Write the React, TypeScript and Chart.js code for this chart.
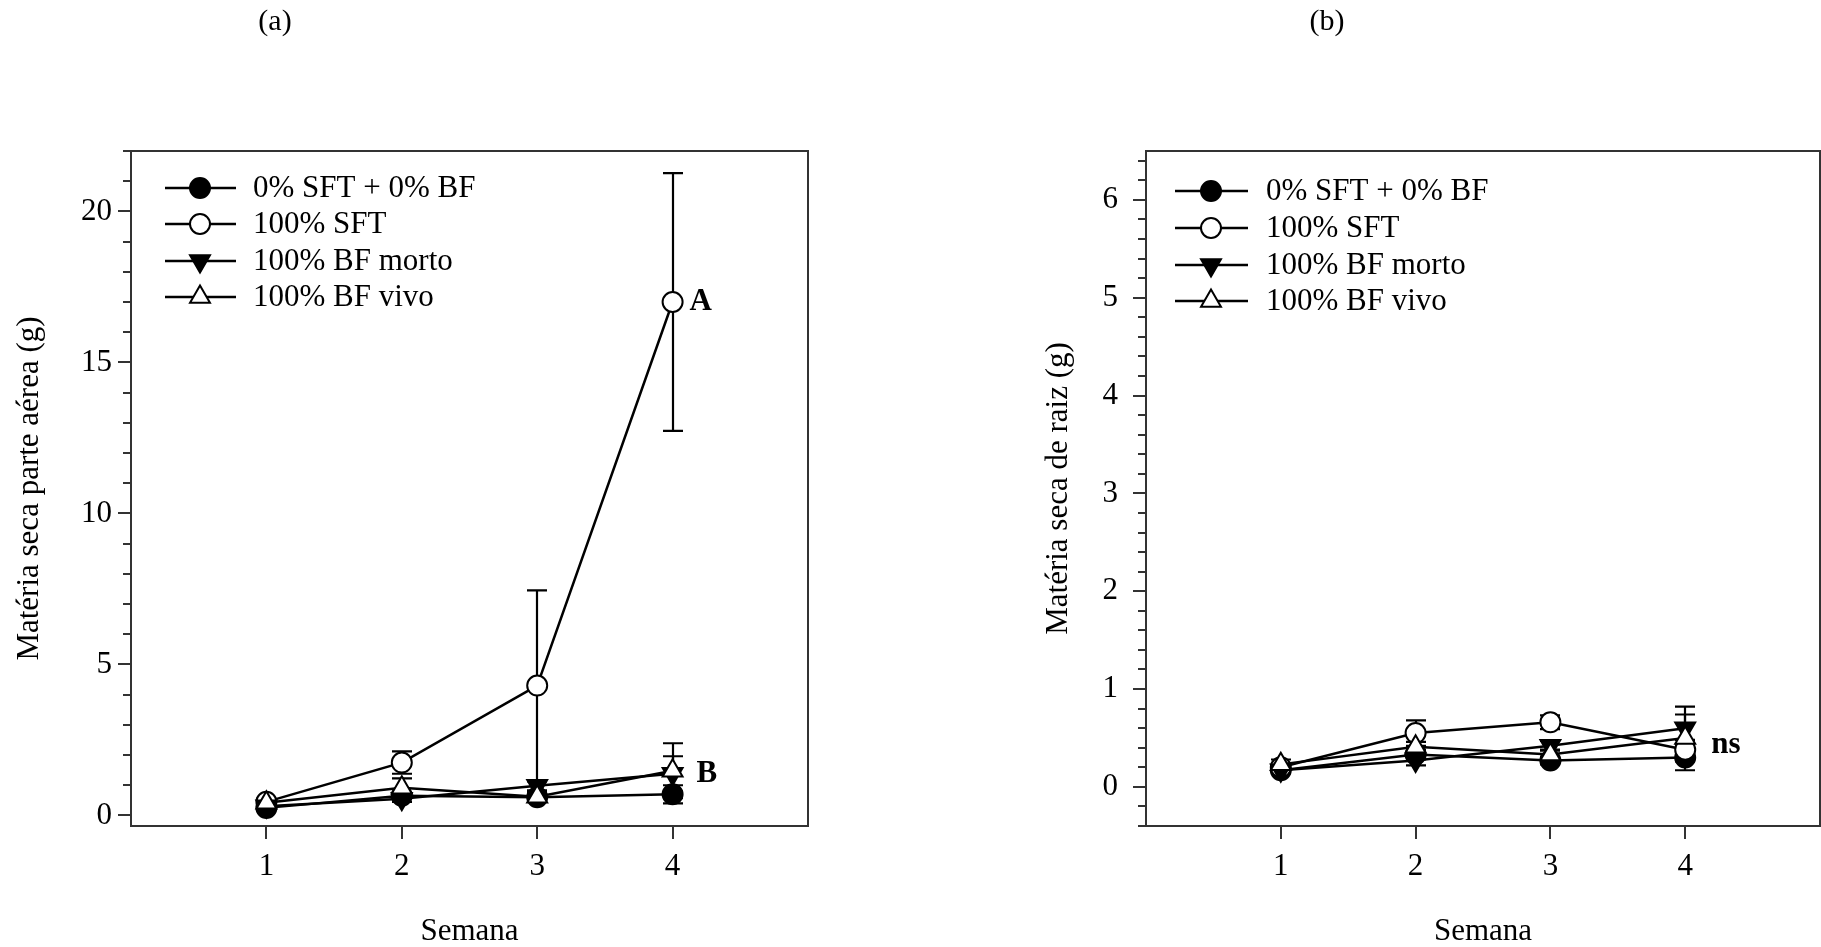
import React, { useEffect, useRef } from 'react';
import { Chart, registerables } from 'chart.js';

Chart.register(...registerables);

// ---------- data ----------
const weeks = [1, 2, 3, 4];
const xTickValues = [1, 2, 3, 4];
const seriesNames = ['0% SFT + 0% BF', '100% SFT', '100% BF morto', '100% BF vivo'];

// (a) shoot dry matter
const shootControl = [0.25, 0.65, 0.6, 0.7];
const shootControlErr = [0.05, 0.1, 0.1, 0.3];
const shootSFT = [0.45, 1.75, 4.3, 17.0];
const shootSFTErr = [0.1, 0.37, 3.15, 4.27];
const shootMorto = [0.3, 0.55, 0.98, 1.38];
const shootMortoErr = [0.05, 0.1, 0.15, 0.58];
const shootVivo = [0.42, 0.92, 0.62, 1.48];
const shootVivoErr = [0.08, 0.31, 0.15, 0.91];
const shootYTicks = [0, 5, 10, 15, 20];

// (b) root dry matter
const rootControl = [0.17, 0.33, 0.27, 0.3];
const rootControlErr = [0.03, 0.05, 0.04, 0.13];
const rootSFT = [0.2, 0.55, 0.66, 0.38];
const rootSFTErr = [0.03, 0.13, 0.07, 0.1];
const rootMorto = [0.17, 0.27, 0.42, 0.6];
const rootMortoErr = [0.03, 0.05, 0.05, 0.22];
const rootVivo = [0.23, 0.41, 0.33, 0.5];
const rootVivoErr = [0.05, 0.05, 0.05, 0.24];
const rootYTicks = [0, 1, 2, 3, 4, 5, 6];

// ---------- styles ----------
const FONT = '"Liberation Serif", "Times New Roman", serif';
const FS = 31;
const markerStyles = [
  { shape: 'circle', rotation: 0, r: 10, fill: '#000' },
  { shape: 'circle', rotation: 0, r: 10, fill: '#fff' },
  { shape: 'triangle', rotation: 180, r: 11.5, fill: '#000' },
  { shape: 'triangle', rotation: 0, r: 11.5, fill: '#fff' },
];
const drawOrder = [3, 2, 1, 0];

type Series = { values: number[]; err: number[] };
type Annot = { text: string; x: number; y: number; dx: number };
type PanelCfg = {
  width: number;
  series: Series[];
  yMin: number;
  yMax: number;
  yTicks: number[];
  minorStep: number;
  yTitle: string;
  header: string;
  headerX: number;
  yAxisWidth: number;
  padRight: number;
  yTickPad: number;
  yTitlePad: number;
  legendLine: [number, number];
  legendMarkerX: number;
  legendTextX: number;
  legendRows: number[];
  annots: Annot[];
};

const panelA: PanelCfg = {
  width: 910,
  series: [
    { values: shootControl, err: shootControlErr },
    { values: shootSFT, err: shootSFTErr },
    { values: shootMorto, err: shootMortoErr },
    { values: shootVivo, err: shootVivoErr },
  ],
  yMin: -0.35,
  yMax: 22,
  yTicks: shootYTicks,
  minorStep: 1,
  yTitle: 'Matéria seca parte aérea (g)',
  header: '(a)',
  headerX: 275,
  yAxisWidth: 131,
  padRight: 102,
  yTickPad: 19,
  yTitlePad: 11,
  legendLine: [165, 236],
  legendMarkerX: 200,
  legendTextX: 253,
  legendRows: [188, 224, 261, 297],
  annots: [
    { text: 'A', x: 4, y: 17, dx: 17 },
    { text: 'B', x: 4, y: 1.38, dx: 24 },
  ],
};

const panelB: PanelCfg = {
  width: 930,
  series: [
    { values: rootControl, err: rootControlErr },
    { values: rootSFT, err: rootSFTErr },
    { values: rootMorto, err: rootMortoErr },
    { values: rootVivo, err: rootVivoErr },
  ],
  yMin: -0.4,
  yMax: 6.5,
  yTicks: rootYTicks,
  minorStep: 0.2,
  yTitle: 'Matéria seca de raiz (g)',
  header: '(b)',
  headerX: 417,
  yAxisWidth: 236,
  padRight: 20,
  yTickPad: 28,
  yTitlePad: 130,
  legendLine: [265, 338],
  legendMarkerX: 301,
  legendTextX: 356,
  legendRows: [191, 228, 265, 301],
  annots: [{ text: 'ns', x: 4, y: 0.43, dx: 26 }],
};

function drawMarker(ctx: CanvasRenderingContext2D, i: number, x: number, y: number) {
  const st = markerStyles[i];
  ctx.beginPath();
  if (st.shape === 'circle') {
    ctx.arc(x, y, st.r, 0, Math.PI * 2);
  } else {
    let rad = (st.rotation * Math.PI) / 180;
    ctx.moveTo(x + Math.sin(rad) * st.r, y - Math.cos(rad) * st.r);
    rad += (2 * Math.PI) / 3;
    ctx.lineTo(x + Math.sin(rad) * st.r, y - Math.cos(rad) * st.r);
    rad += (2 * Math.PI) / 3;
    ctx.lineTo(x + Math.sin(rad) * st.r, y - Math.cos(rad) * st.r);
  }
  ctx.closePath();
  ctx.fillStyle = st.fill;
  ctx.fill();
  ctx.lineWidth = 2;
  ctx.strokeStyle = '#000';
  ctx.stroke();
}

function makePlugin(cfg: PanelCfg) {
  return {
    id: 'panelDecor',
    beforeDatasetsDraw(chart: any) {
      const { ctx } = chart;
      const xs = chart.scales.x;
      const ys = chart.scales.y;
      ctx.save();
      ctx.strokeStyle = '#000';
      ctx.lineWidth = 2.2;
      cfg.series.forEach((s) => {
        weeks.forEach((w, i) => {
          const e = s.err[i];
          if (!e) return;
          const px = Math.round(xs.getPixelForValue(w));
          const top = ys.getPixelForValue(s.values[i] + e);
          const bot = ys.getPixelForValue(s.values[i] - e);
          ctx.beginPath();
          ctx.moveTo(px, top);
          ctx.lineTo(px, bot);
          ctx.moveTo(px - 10, top);
          ctx.lineTo(px + 10, top);
          ctx.moveTo(px - 10, bot);
          ctx.lineTo(px + 10, bot);
          ctx.stroke();
        });
      });
      ctx.restore();
    },
    afterDraw(chart: any) {
      const { ctx, chartArea: a } = chart;
      const xs = chart.scales.x;
      const ys = chart.scales.y;
      ctx.save();
      // frame
      ctx.strokeStyle = '#333';
      ctx.lineWidth = 2;
      ctx.strokeRect(a.left, a.top, a.right - a.left, a.bottom - a.top);
      // y ticks (major + minor)
      const kStart = Math.ceil(cfg.yMin / cfg.minorStep - 1e-6);
      const kEnd = Math.floor(cfg.yMax / cfg.minorStep + 1e-6);
      ctx.beginPath();
      for (let k = kStart; k <= kEnd; k++) {
        const v = k * cfg.minorStep;
        const major = cfg.yTicks.some((t) => Math.abs(t - v) < 1e-6);
        const len = major ? 13 : 8;
        const py = Math.round(ys.getPixelForValue(v));
        ctx.moveTo(a.left - len, py);
        ctx.lineTo(a.left, py);
      }
      // x ticks
      xTickValues.forEach((v) => {
        const px = Math.round(xs.getPixelForValue(v));
        ctx.moveTo(px, a.bottom);
        ctx.lineTo(px, a.bottom + 13);
      });
      ctx.stroke();

      // legend
      ctx.font = `${FS}px ${FONT}`;
      ctx.textBaseline = 'middle';
      ctx.textAlign = 'left';
      seriesNames.forEach((name, i) => {
        const y = cfg.legendRows[i];
        ctx.strokeStyle = '#000';
        ctx.lineWidth = 2.5;
        ctx.beginPath();
        ctx.moveTo(cfg.legendLine[0], y);
        ctx.lineTo(cfg.legendLine[1], y);
        ctx.stroke();
        drawMarker(ctx, i, cfg.legendMarkerX, y);
        ctx.fillStyle = '#000';
        ctx.fillText(name, cfg.legendTextX, y + 1);
      });

      // significance letters
      ctx.font = `bold ${FS}px ${FONT}`;
      cfg.annots.forEach((an) => {
        ctx.fillStyle = '#000';
        ctx.fillText(an.text, xs.getPixelForValue(an.x) + an.dx, ys.getPixelForValue(an.y));
      });

      // header
      ctx.font = `${FS - 1}px ${FONT}`;
      ctx.textAlign = 'center';
      ctx.fillText(cfg.header, cfg.headerX, 22);
      ctx.restore();
    },
  };
}

function buildConfig(cfg: PanelCfg): any {
  const font = { family: FONT, size: FS };
  return {
    type: 'line',
    data: {
      datasets: cfg.series.map((s, i) => ({
        label: seriesNames[i],
        data: weeks.map((w, j) => ({ x: w, y: s.values[j] })),
        borderColor: '#000',
        borderWidth: 2.5,
        tension: 0,
        fill: false,
        order: drawOrder[i],
        pointStyle: markerStyles[i].shape,
        pointRotation: markerStyles[i].rotation,
        pointRadius: markerStyles[i].r,
        pointHoverRadius: markerStyles[i].r,
        pointBackgroundColor: markerStyles[i].fill,
        pointBorderColor: '#000',
        pointBorderWidth: 2,
      })),
    },
    options: {
      animation: false,
      responsive: false,
      devicePixelRatio: 1,
      events: [],
      layout: { padding: { left: 0, top: 151, right: cfg.padRight, bottom: 0 } },
      plugins: {
        legend: { display: false },
        tooltip: { enabled: false },
        title: { display: false },
      },
      scales: {
        x: {
          type: 'linear',
          position: 'bottom',
          min: 0,
          max: 5,
          afterBuildTicks: (s: any) => {
            s.ticks = xTickValues.map((v) => ({ value: v }));
          },
          afterFit: (s: any) => {
            s.height = 947 - 826;
          },
          grid: { display: false, drawTicks: false, tickLength: 0 },
          border: { display: false },
          ticks: {
            font,
            color: '#000',
            padding: 22,
            maxRotation: 0,
            autoSkip: false,
            callback: (v: any) => String(v),
          },
          title: {
            display: true,
            text: 'Semana',
            font: { family: FONT, size: FS, lineHeight: 1.0 },
            color: '#000',
            padding: 0,
          },
        },
        y: {
          type: 'linear',
          position: 'left',
          min: cfg.yMin,
          max: cfg.yMax,
          afterBuildTicks: (s: any) => {
            s.ticks = cfg.yTicks.map((v) => ({ value: v }));
          },
          afterFit: (s: any) => {
            s.width = cfg.yAxisWidth;
          },
          grid: { display: false, drawTicks: false, tickLength: 0 },
          border: { display: false },
          ticks: {
            font,
            color: '#000',
            padding: cfg.yTickPad,
            autoSkip: false,
            callback: (v: any) => String(v),
          },
          title: {
            display: true,
            text: cfg.yTitle,
            font,
            color: '#000',
            padding: { top: cfg.yTitlePad, bottom: 0 },
          },
        },
      },
    },
    plugins: [makePlugin(cfg)],
  };
}

function Panel({ cfg, left }: { cfg: PanelCfg; left: number }) {
  const ref = useRef<HTMLCanvasElement>(null);
  useEffect(() => {
    const chart = new Chart(ref.current as HTMLCanvasElement, buildConfig(cfg));
    return () => chart.destroy();
  }, []);
  return (
    <canvas
      ref={ref}
      width={cfg.width}
      height={947}
      style={{ position: 'absolute', left, top: 0, width: cfg.width, height: 947 }}
    />
  );
}

export default function App() {
  return (
    <div
      style={{
        position: 'absolute',
        left: 0,
        top: 0,
        width: 1821,
        height: 947,
        background: '#fff',
        overflow: 'hidden',
      }}
    >
      <Panel cfg={panelA} left={0} />
      <Panel cfg={panelB} left={910} />
    </div>
  );
}
